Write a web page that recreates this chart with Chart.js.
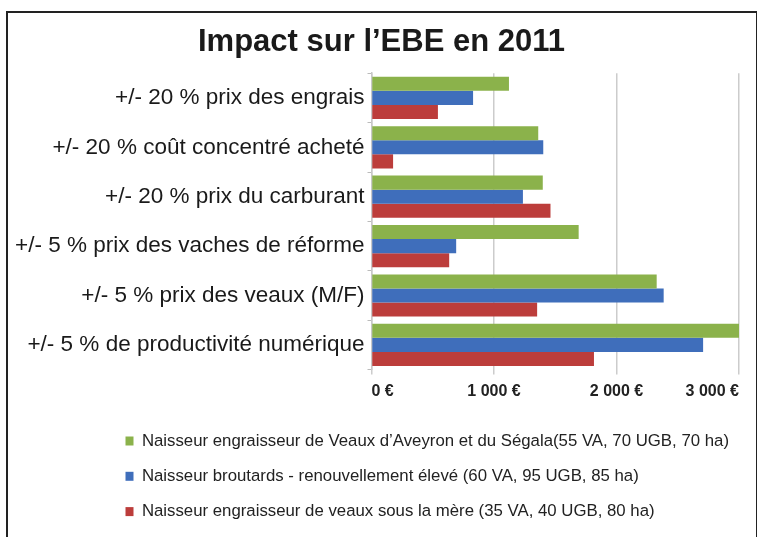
<!DOCTYPE html>
<html>
<head>
<meta charset="utf-8">
<script src="https://cdn.jsdelivr.net/npm/chart.js@4/dist/chart.umd.min.js"></script>
<style>
    body { margin: 0; background: #fff; }
    #wrap { position: relative; width: 758px; height: 537px; overflow: hidden; }
    #ebeChart { position: absolute; left: 0; top: 0; }
    #frame {
        position: absolute; left: 6px; top: 11px; width: 748px; height: 600px;
        border-left: 2px solid #222; border-top: 2px solid #222; border-right: 1px solid #222;
        pointer-events: none;
    }
</style>
</head>
<body>
<div id="wrap">
    <canvas id="ebeChart" width="758" height="537"></canvas>
    <div id="frame"></div>
</div>
<script>
var categories = [
    '+/- 20 % prix des engrais',
    '+/- 20 % coût concentré acheté',
    '+/- 20 % prix du carburant',
    '+/- 5 % prix des vaches de réforme',
    '+/- 5 % prix des veaux (M/F)',
    '+/- 5 % de productivité numérique'
];
var seriesNames = [
    'Naisseur engraisseur de Veaux d’Aveyron et du Ségala(55 VA, 70 UGB, 70 ha)',
    'Naisseur broutards - renouvellement élevé (60 VA, 95 UGB, 85 ha)',
    'Naisseur engraisseur de veaux sous la mère (35 VA, 40 UGB, 80 ha)'
];
var segalaValues = [1122, 1361, 1398, 1691, 2328, 3000];
var broutardsValues = [829, 1402, 1236, 691, 2385, 2707];
var sousMereValues = [542, 176, 1461, 634, 1352, 1816];
var tickLabels = ['0 €', '1 000 €', '2 000 €', '3 000 €'];

var colors = ['#8bb24b', '#3f6ebb', '#bc3d3b'];

// move the legend block to the right, items stay left aligned
var legendShift = {
    id: 'legendShift',
    afterLayout: function(chart) {
        chart.legend.left += 95;
    }
};

var ctx = document.getElementById('ebeChart').getContext('2d');

var myChart = new Chart(ctx, {
    type: 'bar',
    data: {
        labels: categories,
        datasets: [
            { label: seriesNames[0], data: segalaValues, backgroundColor: colors[0], borderWidth: 0 },
            { label: seriesNames[1], data: broutardsValues, backgroundColor: colors[1], borderWidth: 0 },
            { label: seriesNames[2], data: sousMereValues, backgroundColor: colors[2], borderWidth: 0 }
        ]
    },
    options: {
        indexAxis: 'y',
        responsive: false,
        animation: false,
        devicePixelRatio: 1,
        categoryPercentage: 0.854,
        barPercentage: 1.0,
        layout: {
            padding: { left: 12, right: 7, top: 0, bottom: 7 }
        },
        scales: {
            x: {
                min: 0,
                max: 3000,
                ticks: {
                    stepSize: 1000,
                    align: 'inner',
                    padding: 7,
                    color: '#222',
                    font: { family: 'Liberation Sans, Arial, sans-serif', size: 16, weight: 'bold' },
                    callback: function(value, index) {
                        return tickLabels[index];
                    }
                },
                grid: { color: '#cccccc', lineWidth: 1.5, tickLength: 5 },
                border: { display: false },
                afterFit: function(scale) {
                    scale.paddingRight = 19;
                    scale.height = 44.5;
                }
            },
            y: {
                ticks: {
                    padding: 3,
                    color: '#1a1a1a',
                    font: { family: 'Liberation Sans, Arial, sans-serif', size: 22.5 }
                },
                grid: { drawOnChartArea: false, drawTicks: true, tickLength: 4, color: '#bbbbbb' },
                border: { display: true, color: '#c8c8c8', width: 1.5 }
            }
        },
        plugins: {
            title: {
                display: true,
                text: 'Impact sur l’EBE en 2011',
                color: '#1a1a1a',
                font: { family: 'Liberation Sans, Arial, sans-serif', size: 31, weight: 'bold' },
                padding: { top: 24, bottom: 12 }
            },
            legend: {
                position: 'bottom',
                align: 'start',
                labels: {
                    boxWidth: 8,
                    boxHeight: 9,
                    padding: 18.5,
                    color: '#222',
                    font: { family: 'Liberation Sans, Arial, sans-serif', size: 16.8 }
                }
            },
            tooltip: { enabled: false }
        }
    },
    plugins: [legendShift]
});
</script>
</body>
</html>
